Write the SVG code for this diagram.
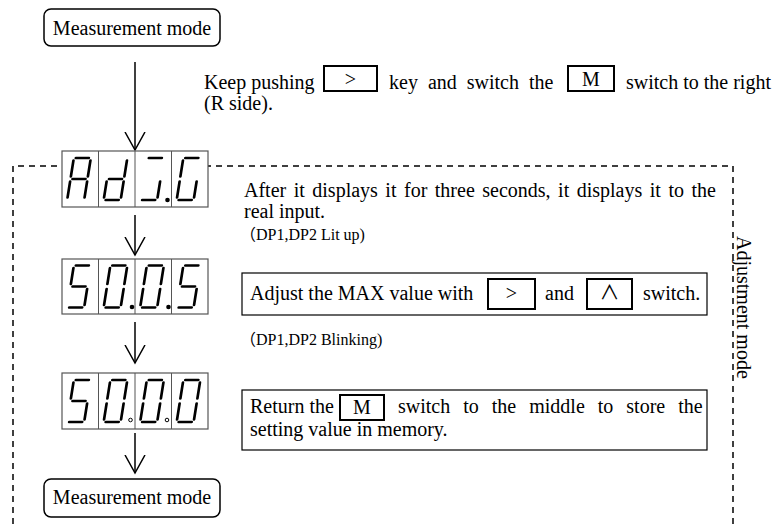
<svg xmlns="http://www.w3.org/2000/svg" xmlns:xlink="http://www.w3.org/1999/xlink" width="776" height="524" viewBox="0 0 776 524">
  <style>
    .txt { font-family: "Liberation Serif", "Noto Sans CJK JP", serif; font-size: 20px; fill: #000; }
    .note { font-family: "Liberation Serif", "Noto Sans CJK JP", serif; font-size: 16px; fill: #000; }
    .node { fill: #fff; stroke: #000; stroke-width: 1.5; }
    .key { fill: #fff; stroke: #000; stroke-width: 2; }
    .box { fill: #fff; stroke: #000; stroke-width: 1.2; }
    .frame { fill: #fff; stroke: #555; stroke-width: 1.2; }
    .div { stroke: #555; stroke-width: 1; }
    .seg { fill: none; stroke: #000; stroke-width: 2.7; stroke-linecap: round; }
    .wire { fill: none; stroke: #000; stroke-width: 1.5; }
    .dash { fill: none; stroke: #000; stroke-width: 1.5; stroke-dasharray: 6 5; }
  </style>
  <defs>
    <marker id="vhead" markerUnits="userSpaceOnUse" markerWidth="24" markerHeight="24" refX="18" refY="11" orient="auto">
      <path d="M0,1 L18,11 L0,21" fill="none" stroke="#000" stroke-width="1.5"/>
    </marker>
    <!-- seven-segment glyphs, centred on the origin, slanted -->
    <g id="g-A" transform="skewX(-9)">
      <path class="seg" d="M-6.5,-21H6.5M8.5,-18.5V-2.5M8.5,2.5V18.5M-8.5,2.5V18.5M-8.5,-18.5V-2.5M-6.5,0H6.5"/>
    </g>
    <g id="g-d" transform="skewX(-9)">
      <path class="seg" d="M8.5,-18.5V-2.5M8.5,2.5V18.5M-6.5,21H6.5M-8.5,2.5V18.5M-6.5,0H6.5"/>
    </g>
    <g id="g-j" transform="skewX(-9)">
      <path class="seg" d="M-6.5,-21H6.5M8.5,2.5V18.5M-6.5,21H6.5"/>
    </g>
    <g id="g-G" transform="skewX(-9)">
      <path class="seg" d="M-6.5,-21H6.5M8.5,2.5V18.5M-6.5,21H6.5M-8.5,2.5V18.5M-8.5,-18.5V-2.5"/>
    </g>
    <g id="g-5" transform="skewX(-9)">
      <path class="seg" d="M-6.5,-21H6.5M-8.5,-18.5V-2.5M-6.5,0H6.5M8.5,2.5V18.5M-6.5,21H6.5"/>
    </g>
    <g id="g-0" transform="skewX(-9)">
      <path class="seg" d="M-6.5,-21H6.5M8.5,-18.5V-2.5M8.5,2.5V18.5M-6.5,21H6.5M-8.5,2.5V18.5M-8.5,-18.5V-2.5"/>
    </g>
  </defs>

  <rect width="776" height="524" fill="#fff"/>

  <!-- adjustment mode boundary -->
  <g id="adjust-frame">
    <path class="dash" d="M13,524 V166 H733 V524"/>
    <text class="txt" transform="translate(737,236) rotate(90)">Adjustment mode</text>
  </g>

  <!-- connectors -->
  <g id="connectors">
    <line class="wire" x1="135" y1="62" x2="135" y2="150" marker-end="url(#vhead)"/>
    <line class="wire" x1="135" y1="215" x2="135" y2="255" marker-end="url(#vhead)"/>
    <line class="wire" x1="135" y1="322" x2="135" y2="363" marker-end="url(#vhead)"/>
    <line class="wire" x1="135" y1="433" x2="135" y2="473" marker-end="url(#vhead)"/>
  </g>

  <g id="node-measure-top">
    <rect class="node" x="44" y="9" width="176" height="37" rx="7"/>
    <text class="txt" x="132" y="35" text-anchor="middle" font-size="20.5">Measurement mode</text>
  </g>

  <g id="step-enter">
    <text class="txt" x="204" y="89">Keep pushing</text>
    <rect class="key" x="324" y="66" width="53" height="25"/>
    <text class="txt" x="350.5" y="86" text-anchor="middle">&gt;</text>
    <text class="txt" x="389" y="89" word-spacing="5">key and switch the</text>
    <rect class="key" x="568" y="66" width="46" height="25"/>
    <text class="txt" x="591" y="86" text-anchor="middle">M</text>
    <text class="txt" x="626" y="89">switch to the right</text>
    <text class="txt" x="204" y="110">(R side).</text>
  </g>

  <g id="display-adjg">
    <rect class="frame" x="62" y="151" width="146" height="56"/>
    <line class="div" x1="98.5" y1="151" x2="98.5" y2="207"/>
    <line class="div" x1="135" y1="151" x2="135" y2="207"/>
    <line class="div" x1="171.5" y1="151" x2="171.5" y2="207"/>
    <use href="#g-A" transform="translate(79,179)"/>
    <use href="#g-d" transform="translate(115.5,179)"/>
    <use href="#g-j" transform="translate(152,179)"/>
    <use href="#g-G" transform="translate(188.5,179)"/>
    <circle cx="167.5" cy="200" r="2.3" fill="#000"/>
  </g>

  <g id="note-adjg">
    <text class="txt" x="244" y="197" word-spacing="2.5">After it displays it for three seconds, it displays it to the</text>
    <text class="txt" x="244" y="218">real input.</text>
    <text class="note" x="240" y="240">（DP1,DP2 Lit up)</text>
  </g>

  <g id="display-5005">
    <rect class="frame" x="62" y="259" width="146" height="55"/>
    <line class="div" x1="98.5" y1="259" x2="98.5" y2="314"/>
    <line class="div" x1="135" y1="259" x2="135" y2="314"/>
    <line class="div" x1="171.5" y1="259" x2="171.5" y2="314"/>
    <use href="#g-5" transform="translate(79,286.5)"/>
    <use href="#g-0" transform="translate(115.5,286.5)"/>
    <use href="#g-0" transform="translate(152,286.5)"/>
    <use href="#g-5" transform="translate(188.5,286.5)"/>
    <circle cx="132" cy="307" r="2.3" fill="#000"/>
    <circle cx="168.5" cy="307" r="2.3" fill="#000"/>
  </g>

  <g id="note-adjust">
    <rect class="box" x="242" y="273" width="465" height="42"/>
    <text class="txt" x="250" y="300">Adjust the MAX value with</text>
    <rect class="key" x="488" y="279" width="47" height="30"/>
    <text class="txt" x="511.5" y="300" text-anchor="middle">&gt;</text>
    <text class="txt" x="545" y="300">and</text>
    <rect class="key" x="587" y="279" width="45" height="30"/>
    <text class="txt" x="609.5" y="300" text-anchor="middle" font-family="DejaVu Serif" font-size="16">∧</text>
    <text class="txt" x="643" y="300">switch.</text>
    <text class="note" x="240" y="345">（DP1,DP2 Blinking)</text>
  </g>

  <g id="display-5000">
    <rect class="frame" x="62" y="373" width="146" height="56"/>
    <line class="div" x1="98.5" y1="373" x2="98.5" y2="429"/>
    <line class="div" x1="135" y1="373" x2="135" y2="429"/>
    <line class="div" x1="171.5" y1="373" x2="171.5" y2="429"/>
    <use href="#g-5" transform="translate(79,401)"/>
    <use href="#g-0" transform="translate(115.5,401)"/>
    <use href="#g-0" transform="translate(152,401)"/>
    <use href="#g-0" transform="translate(188.5,401)"/>
    <circle cx="130.5" cy="420" r="1.8" fill="#fff" stroke="#000" stroke-width="1"/>
    <circle cx="167" cy="420" r="1.8" fill="#fff" stroke="#000" stroke-width="1"/>
  </g>

  <g id="note-store">
    <rect class="box" x="242" y="390" width="465" height="60"/>
    <text class="txt" x="250" y="413">Return the</text>
    <rect class="key" x="340" y="395" width="44" height="25"/>
    <text class="txt" x="362" y="414" text-anchor="middle">M</text>
    <text class="txt" x="398" y="413" word-spacing="8">switch to the middle to store the</text>
    <text class="txt" x="250" y="436">setting value in memory.</text>
  </g>

  <g id="node-measure-bottom">
    <rect class="node" x="44" y="479" width="176" height="38" rx="7"/>
    <text class="txt" x="132" y="504" text-anchor="middle" font-size="20.5">Measurement mode</text>
  </g>
</svg>
